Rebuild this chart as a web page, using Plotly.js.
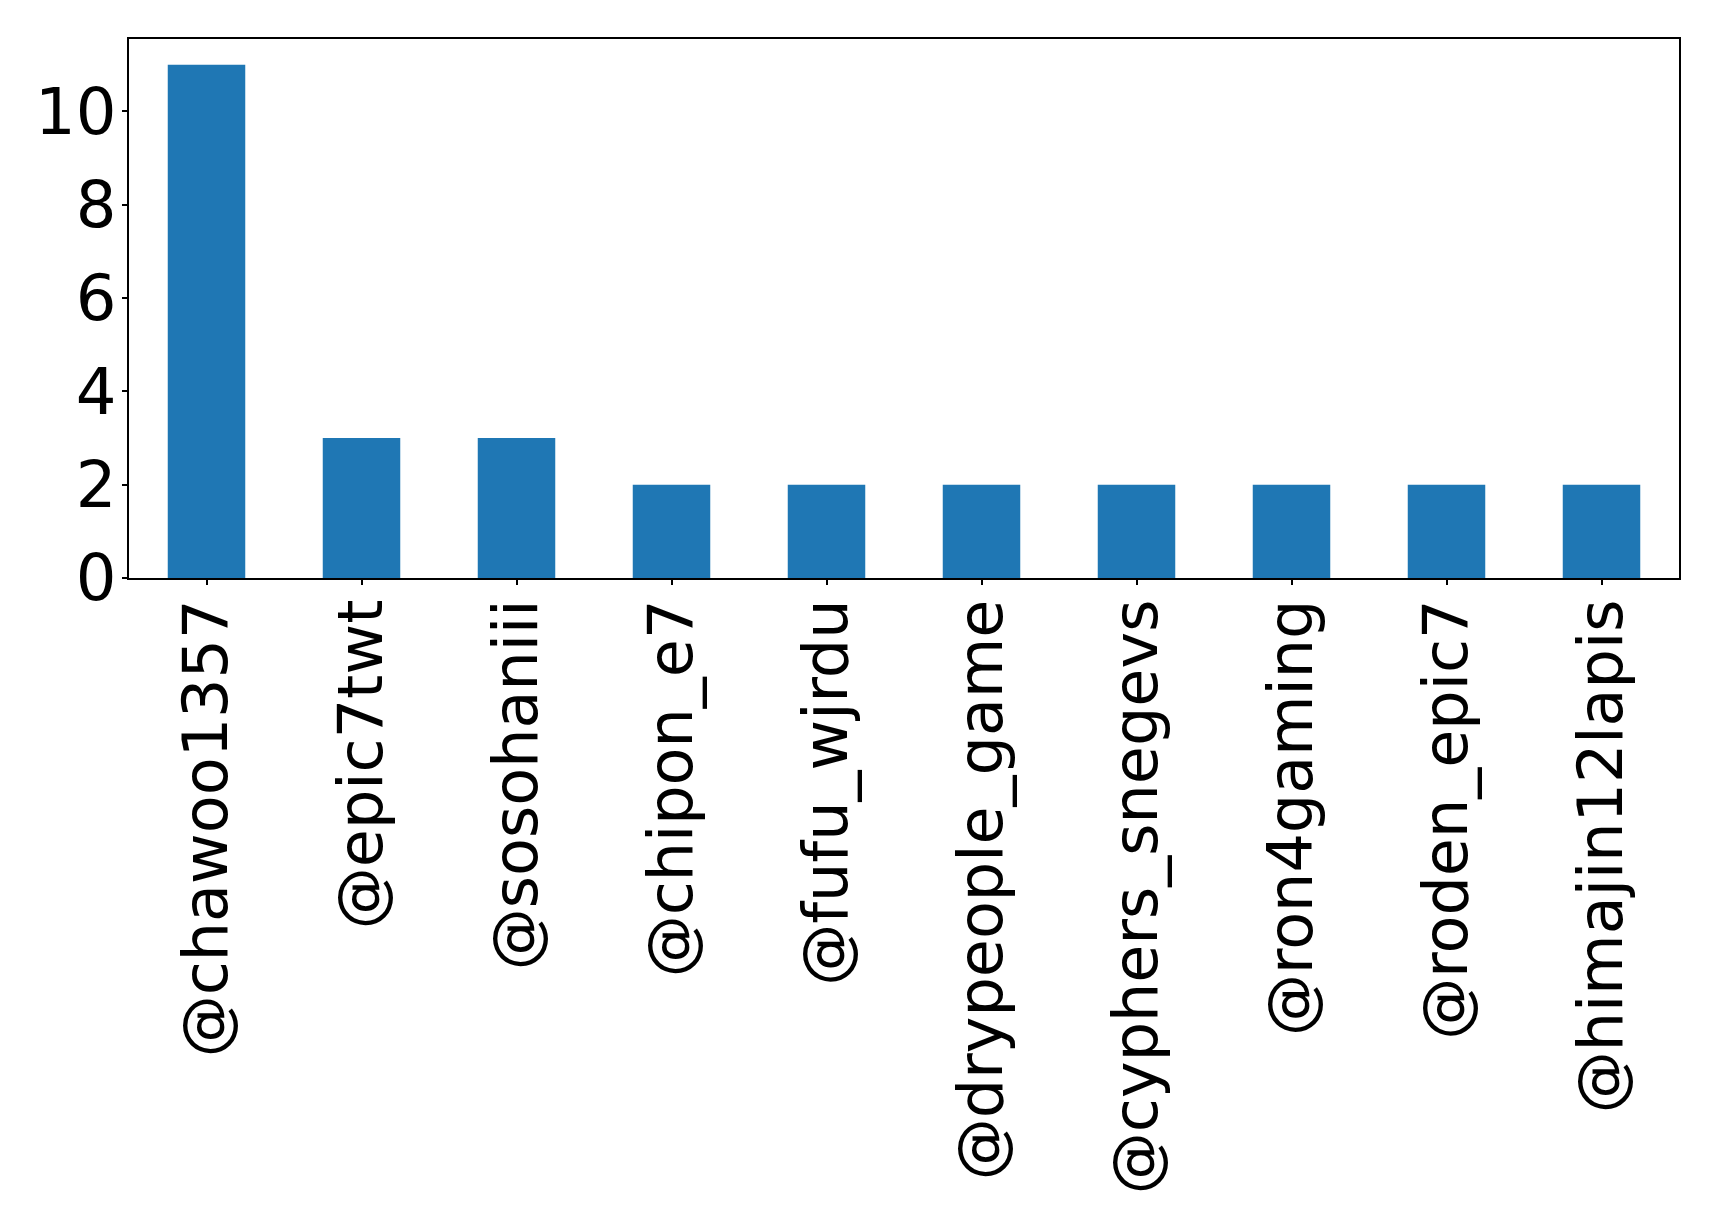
<!DOCTYPE html>
<html>
<head>
<meta charset="utf-8">
<script src="https://cdn.plot.ly/plotly-3.0.1.min.js"></script>
<style>
  html, body { margin: 0; padding: 0; background: #fff; }
  #myDiv { width: 1719px; height: 1227px; }
</style>
</head>
<body>
<div id="myDiv"></div>
<script>
var users = ['@chawoo1357', '@epic7twt', '@sosohaniii', '@chipon_e7', '@fufu_wjrdu',
  '@drypeople_game', '@cyphers_snegevs', '@ron4gaming', '@roden_epic7', '@himajin12lapis'];
var counts = [11, 3, 3, 2, 2, 2, 2, 2, 2, 2];

var trace1 = {
  x: users,
  y: counts,
  type: 'bar',
  width: 0.5,
  marker: {color: '#1f77b4'},
  hoverinfo: 'x+y'
};

var axisFont = {family: 'DejaVu Sans', size: 62, color: '#000'};

var layout = {
  width: 1719,
  height: 1227,
  margin: {l: 129, r: 40, t: 39, b: 649},
  paper_bgcolor: '#fff',
  plot_bgcolor: '#fff',
  showlegend: false,
  font: axisFont,
  xaxis: {
    type: 'category',
    range: [-0.5, 9.5],
    tickangle: -90,
    tickfont: axisFont,
    ticks: 'outside',
    ticklen: 5,
    tickwidth: 1.5,
    tickcolor: '#000',
    ticklabelstandoff: -10,
    showline: true,
    linecolor: '#000',
    linewidth: 1.5,
    mirror: true,
    showgrid: false,
    zeroline: false
  },
  yaxis: {
    range: [0, 11.55],
    tickvals: [0, 2, 4, 6, 8, 10],
    tickfont: {family: 'DejaVu Sans', size: 64, color: '#000'},
    ticks: 'outside',
    ticklen: 5,
    tickwidth: 1.5,
    tickcolor: '#000',
    ticklabelstandoff: -7,
    showline: true,
    linecolor: '#000',
    linewidth: 1.5,
    mirror: true,
    showgrid: false,
    zeroline: false
  }
};

Plotly.newPlot('myDiv', [trace1], layout, {displayModeBar: false});
</script>
</body>
</html>
